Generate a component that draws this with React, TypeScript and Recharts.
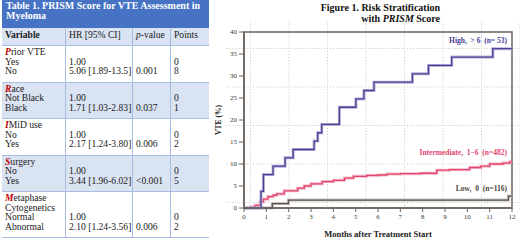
import React from "react";
import { LineChart, Line, XAxis, YAxis, ReferenceArea } from "recharts";

// table content
const tableTitle = ["Table 1. PRISM Score for VTE Assessment in", "Myeloma"];
const varNames = [["Prior VTE"], ["Race"], ["IMiD use"], ["Surgery"], ["Metaphase", "Cytogenetics"]];
const varLevels = [
  ["Yes", "No"],
  ["Not Black", "Black"],
  ["No", "Yes"],
  ["No", "Yes"],
  ["Normal", "Abnormal"],
];
const hrValues = ["5.06 [1.89-13.5]", "1.71 [1.03-2.83]", "2.17 [1.24-3.80]", "3.44 [1.96-6.02]", "2.10 [1.24-3.56]"];
const pValues = ["0.001", "0.037", "0.006", "<0.001", "0.006"];
const pointValues = ["8", "1", "2", "5", "2"];

// chart content
const monthTicks = [0, 1, 2, 3, 4, 5, 6, 7, 8, 9, 10, 11, 12];
const vteTicks = [0, 5, 10, 15, 20, 25, 30, 35, 40];

const highMonths = [0, 0.76, 0.87, 1.3, 1.84, 2.2, 3.14, 3.3, 3.48, 4.27, 5.01, 5.37, 5.82, 7.54, 8.26, 9.3, 11.14, 12];
const highVte = [0, 3.8, 7.6, 9.5, 11.4, 13.3, 15.2, 17.1, 19.0, 22.9, 24.8, 26.7, 28.6, 30.5, 32.4, 34.3, 36.2, 36.2];

const interMonths = [0, 0.3, 0.5, 0.72, 0.87, 1.07, 1.3, 1.46, 1.8, 2.1, 2.4, 2.7, 3.0, 3.5, 4.0, 4.5, 4.9, 5.5, 6.0, 6.4, 7.0, 7.9, 8.63, 9.2, 10.1, 10.6, 11.0, 11.6, 11.9, 12];
const interVte = [0, 0.2, 0.6, 1.4, 2.0, 2.6, 2.9, 3.2, 3.9, 3.9, 4.5, 5.0, 5.5, 6.0, 6.3, 6.8, 7.2, 7.4, 7.5, 7.7, 7.8, 7.9, 8.6, 8.7, 9.2, 9.5, 10.0, 10.2, 10.5, 10.9];

const lowMonths = [0, 1.27, 1.99, 11.84, 12];
const lowVte = [0, 1.0, 1.8, 2.7, 2.7];

const toSeries = (ms: number[], vs: number[]) => ms.map((m, i) => ({ m, v: vs[i] }));
const highData = toSeries(highMonths, highVte);
const interData = toSeries(interMonths, interVte);
const lowData = toSeries(lowMonths, lowVte);

const serif = "'Liberation Serif', 'DejaVu Serif', serif";
const lightBlue = "#dae3f2";
const borderBlue = "#a9bde3";

const colWidths = [63, 67, 38, 38];

const Cell = ({ lines, width, first }: { lines: React.ReactNode[]; width: number; first?: boolean }) => (
  <div
    style={{
      width,
      boxSizing: "border-box",
      padding: "1px 0 6px 3px",
      borderLeft: first ? "none" : `1px solid ${borderBlue}`,
    }}
  >
    {lines.map((l, i) => (
      <div key={i} style={{ height: 9.5, lineHeight: "9.5px", whiteSpace: "nowrap" }}>
        {l}
      </div>
    ))}
  </div>
);

const Table = () => (
  <div style={{ position: "absolute", left: 2, top: 0, width: 207, fontFamily: serif, fontSize: 9.6, color: "#1a1a1a" }}>
    <div style={{ background: "#4673c4", color: "#fff", fontWeight: "bold", fontSize: 10, height: 28, boxSizing: "border-box", padding: "1px 0 0 4px", lineHeight: "10px" }}>
      {tableTitle.map((t) => (
        <div key={t}>{t}</div>
      ))}
    </div>
    <div style={{ display: "flex", background: lightBlue, height: 18, borderBottom: `1px solid ${borderBlue}`, boxSizing: "border-box", lineHeight: "12px" }}>
      {[
        <b>Variable</b>,
        <span>HR [95% CI]</span>,
        <span>
          <i>p</i>-value
        </span>,
        <span>Points</span>,
      ].map((h, i) => (
        <div key={i} style={{ width: colWidths[i], boxSizing: "border-box", padding: "1px 0 0 3px", borderLeft: i ? `1px solid ${borderBlue}` : "none" }}>
          {h}
        </div>
      ))}
    </div>
    {varNames.map((name, r) => {
      const blanks = name.map(() => "");
      const nameLines = name.map((n, j) =>
        j === 0 ? (
          <span>
            <b style={{ color: "#c00000", fontStyle: "italic" }}>{n[0]}</b>
            {n.slice(1)}
          </span>
        ) : (
          n
        )
      );
      return (
        <div key={r} style={{ display: "flex", background: r % 2 ? lightBlue : "#fff", borderBottom: `1px solid ${borderBlue}` }}>
          <Cell first width={colWidths[0]} lines={[...nameLines, ...varLevels[r]]} />
          <Cell width={colWidths[1]} lines={[...blanks, "1.00", hrValues[r]]} />
          <Cell width={colWidths[2]} lines={[...blanks, "", pValues[r]]} />
          <Cell width={colWidths[3]} lines={[...blanks, "0", pointValues[r]]} />
        </div>
      );
    })}
  </div>
);

const Grid = () => (
  <svg width={520} height={240} style={{ position: "absolute", left: 0, top: 0 }}>
    <defs>
      <pattern id="dots" patternUnits="userSpaceOnUse" x={250} y={48} width={38.5} height={38.5}>
        <line x1={0.5} y1={0} x2={0.5} y2={38.5} stroke="#c4c4c4" strokeDasharray="1 2" />
        <line x1={0} y1={0.5} x2={38.5} y2={0.5} stroke="#c4c4c4" strokeDasharray="1 2" />
      </pattern>
    </defs>
    <rect x={226} y={21} width={294} height={188} fill="url(#dots)" />
  </svg>
);

const tickStyle = { fontSize: 7, fill: "#3a3a3a", fontFamily: serif };

const curveLabel = (text: string, color: string, top: number) => (
  <div style={{ position: "absolute", right: 13, top, fontFamily: serif, fontSize: 7.5, fontWeight: "bold", color, whiteSpace: "pre" }}>{text}</div>
);

export default function App() {
  return (
    <div style={{ position: "fixed", left: 0, top: 0, width: 520, height: 240, background: "#fff", overflow: "hidden" }}>
      <Table />
      <Grid />
      <div style={{ position: "absolute", left: 250, width: 190, top: 2, textAlign: "right", fontFamily: serif, fontWeight: "bold", fontSize: 10, lineHeight: "11px", color: "#111" }}>
        <div>Figure 1. Risk Stratification</div>
        <div>
          with <i>PRISM</i> Score
        </div>
      </div>
      <div style={{ position: "absolute", left: 218, top: 120, fontFamily: serif, fontWeight: "bold", fontSize: 7.5, transform: "translate(-50%, -50%) rotate(-90deg)", whiteSpace: "nowrap", color: "#222" }}>
        VTE (%)
      </div>
      <div style={{ position: "absolute", left: 212, top: 0 }}>
        <LineChart width={308} height={240} margin={{ top: 32, right: 8, bottom: 0, left: 0 }}>
          <XAxis
            dataKey="m"
            type="number"
            domain={[0, 12]}
            ticks={monthTicks}
            allowDataOverflow
            height={32}
            tick={tickStyle}
            tickSize={4}
            tickMargin={2}
            axisLine={{ stroke: "#6b635d", strokeWidth: 1.5 }}
            tickLine={{ stroke: "#6b635d" }}
            label={{ value: "Months after Treatment Start", position: "insideBottom", offset: 3, style: { fontSize: 8.5, fontWeight: "bold", fontFamily: serif, fill: "#222" } }}
          />
          <YAxis
            type="number"
            domain={[0, 40]}
            ticks={vteTicks}
            width={32}
            tick={tickStyle}
            tickSize={5}
            tickMargin={2}
            axisLine={{ stroke: "#6b635d", strokeWidth: 1.5 }}
            tickLine={{ stroke: "#6b635d" }}
          />
          <ReferenceArea x1={0} x2={12} y1={0} y2={40} fill="none" stroke="#6b635d" strokeWidth={1.5} ifOverflow="visible" />
          <Line data={lowData} dataKey="v" type="stepAfter" stroke="#c9c4c0" strokeWidth={3} dot={false} isAnimationActive={false} />
          <Line data={lowData} dataKey="v" type="stepAfter" stroke="#5b544f" strokeWidth={1.3} dot={false} isAnimationActive={false} />
          <Line data={interData} dataKey="v" type="stepAfter" stroke="#f5b8ca" strokeWidth={3} dot={false} isAnimationActive={false} />
          <Line data={interData} dataKey="v" type="stepAfter" stroke="#e2466f" strokeWidth={1.3} dot={false} isAnimationActive={false} />
          <Line data={highData} dataKey="v" type="stepAfter" stroke="#b7b2da" strokeWidth={3} dot={false} isAnimationActive={false} />
          <Line data={highData} dataKey="v" type="stepAfter" stroke="#4b4194" strokeWidth={1.3} dot={false} isAnimationActive={false} />
        </LineChart>
      </div>
      {curveLabel("High,  > 6  (n= 53)", "#4b4194", 36)}
      {curveLabel("Intermediate,  1\u22126  (n=482)", "#e2466f", 148)}
      {curveLabel("Low,  0  (n=116)", "#4a4440", 184)}
    </div>
  );
}
